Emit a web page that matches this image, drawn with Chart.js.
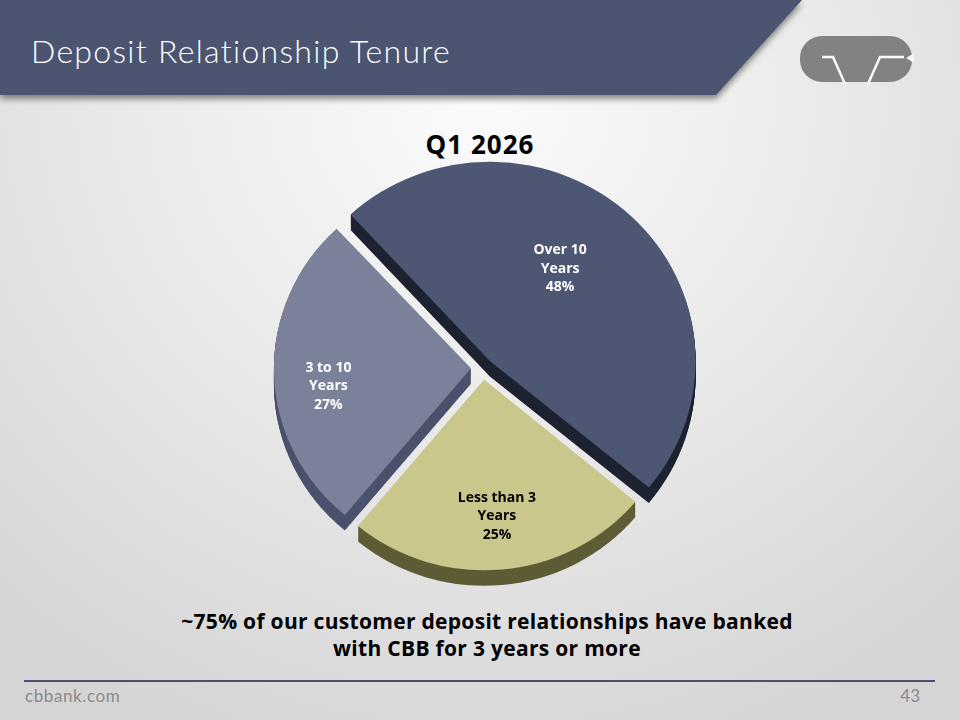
<!DOCTYPE html>
<html>
<head>
<meta charset="utf-8">
<script src="https://cdn.jsdelivr.net/npm/chart.js@4.4.1/dist/chart.umd.min.js"></script>
<style>
  html, body { margin: 0; padding: 0; }
  body {
    width: 960px; height: 720px; position: relative; overflow: hidden;
    background: radial-gradient(ellipse 75% 95% at 50% 14%, #fbfbfb 0%, #ebebeb 45%, #d5d5d5 100%);
    font-family: "Open Sans", Lato, sans-serif;
  }
  #hdrWrap { position: absolute; left: 0; top: 0; width: 960px; height: 110px;
    filter: drop-shadow(0 4px 3px rgba(0,0,0,.45)); }
  #hdr { position: absolute; left: 0; top: 0; width: 802px; height: 95px; background: #4b5571;
    clip-path: polygon(0 0, 802px 0, 716px 95px, 0 95px); }
  #slideTitle { position: absolute; left: 31px; top: 31px; color: #fff; font-family: Lato, sans-serif;
    font-size: 32px; font-weight: 300; letter-spacing: 1.3px; white-space: nowrap; }
  #logo { position: absolute; left: 798px; top: 34px; }
  #period { position: absolute; left: 0; width: 960px; top: 126px; text-align: center;
    font-size: 26px; font-weight: 700; letter-spacing: 1px; color: #000; }
  #chartBox { position: absolute; left: 233px; top: 133px; width: 500px; height: 470px; }
  #caption { position: absolute; left: 0; width: 974px; top: 608px; text-align: center;
    font-size: 21px; font-weight: 700; line-height: 27px; letter-spacing: 0.3px; color: #000; }
  #rule { position: absolute; left: 24px; top: 680px; width: 911px; height: 2px; background: #4d5064; }
  #site { position: absolute; left: 25px; top: 685px; font-family: Lato, sans-serif; font-size: 17px;
    letter-spacing: 0.6px; color: #8a8a8a; }
  #page { position: absolute; right: 40px; top: 685px; font-family: Lato, sans-serif; font-size: 17px; color: #8a8a8a; }
</style>
</head>
<body>
<div id="hdrWrap"><div id="hdr"></div></div>
<div id="slideTitle">Deposit Relationship Tenure</div>
<svg id="logo" width="118" height="52" viewBox="0 0 118 52">
  <rect x="2" y="2" width="112" height="46" rx="22" fill="#828284"/>
  <polyline points="24,23 35,23 47,50" fill="none" stroke="#fafafa" stroke-width="2.5"/>
  <polyline points="70,50 82,23 106,23" fill="none" stroke="#fafafa" stroke-width="2.5"/>
  <path d="M116,19 L108,24 L116,29 Z" fill="#f2f2f2"/>
</svg>
<div id="period">Q1 2026</div>
<div id="chartBox"><canvas id="pie" width="500" height="470"></canvas></div>
<div id="caption">~75% of our customer deposit relationships have banked<br>with CBB for 3 years or more</div>
<div id="rule"></div>
<div id="site">cbbank.com</div>
<div id="page">43</div>

<script>
// slice data, clockwise from the upper left
const categories  = ['Over 10 Years', 'Less than 3 Years', '3 to 10 Years'];
const labelLines  = [['Over 10', 'Years'], ['Less than 3', 'Years'], ['3 to 10', 'Years']];
const shares      = [48, 25, 27];

// styling
const faceColors  = ['#4d5672', '#c9c78b', '#7b8199'];
const sideColors  = ['#1f2331', '#5d5c35', '#4b516c'];
const labelColors = ['#ffffff', '#000000', '#ffffff'];
const sliceOffsets = [40, 48, 48];
const labelRadius  = [0.6, 0.72, 0.73];
const labelAngleFrac = [0.46, 0.5, 0.44];

const TILT = 0.968;   // vertical squash for the tilted look
const DEPTH = 16;     // thickness of the pie edge

/** Draws the dark pie edge under every slice, squashes the pie and writes the labels */
const pie3d = {
  id: 'pie3d',
  beforeDatasetsDraw(chart) {
    const { ctx, chartArea: a } = chart;
    const cx = (a.left + a.right) / 2, cy = (a.top + a.bottom) / 2;
    ctx.save();
    ctx.translate(cx, cy);
    ctx.scale(1, TILT);
    ctx.translate(-cx, -cy);
    const arcs = chart.getDatasetMeta(0).data;
    for (let k = DEPTH; k > 0; k--) {
      arcs.forEach((arc, i) => {
        const orig = arc.options;
        arc.options = Object.create(orig, {
          backgroundColor: { value: sideColors[i] },
          borderColor: { value: sideColors[i] },
          borderWidth: { value: 0 },
        });
        ctx.save();
        ctx.translate(0, k);
        arc.draw(ctx);
        ctx.restore();
        arc.options = orig;
      });
    }
  },
  afterDatasetsDraw(chart) {
    const { ctx, chartArea: a } = chart;
    ctx.restore();
    const cy = (a.top + a.bottom) / 2;
    const arcs = chart.getDatasetMeta(0).data;
    ctx.save();
    ctx.font = 'bold 14px "Open Sans", sans-serif';
    ctx.textAlign = 'center';
    ctx.textBaseline = 'middle';
    arcs.forEach((arc, i) => {
      const { x, y, startAngle, endAngle, outerRadius } = arc.getProps(['x', 'y', 'startAngle', 'endAngle', 'outerRadius'], true);
      const mid = (startAngle + endAngle) / 2;
      const ang = startAngle + (endAngle - startAngle) * labelAngleFrac[i];
      const shift = sliceOffsets[i] / 4;
      const d = outerRadius * labelRadius[i];
      const px = x + Math.cos(mid) * shift + Math.cos(ang) * d;
      const py = cy + (y + Math.sin(mid) * shift + Math.sin(ang) * d - cy) * TILT;
      const lines = labelLines[i].concat([shares[i] + '%']);
      ctx.fillStyle = labelColors[i];
      lines.forEach((t, j) => ctx.fillText(t, px, py + (j - 1) * 18.5));
    });
    ctx.restore();
  },
};

new Chart(document.getElementById('pie'), {
  type: 'pie',
  data: {
    labels: categories,
    datasets: [{
      data: shares,
      backgroundColor: faceColors,
      borderWidth: 0,
      offset: sliceOffsets,
      clip: false,
    }],
  },
  options: {
    responsive: false,
    animation: false,
    events: [],
    rotation: -43,
    radius: 197,
    layout: { padding: 0 },
    plugins: {
      legend: { display: false },
      tooltip: { enabled: false },
    },
  },
  plugins: [pie3d],
});
</script>
</body>
</html>
